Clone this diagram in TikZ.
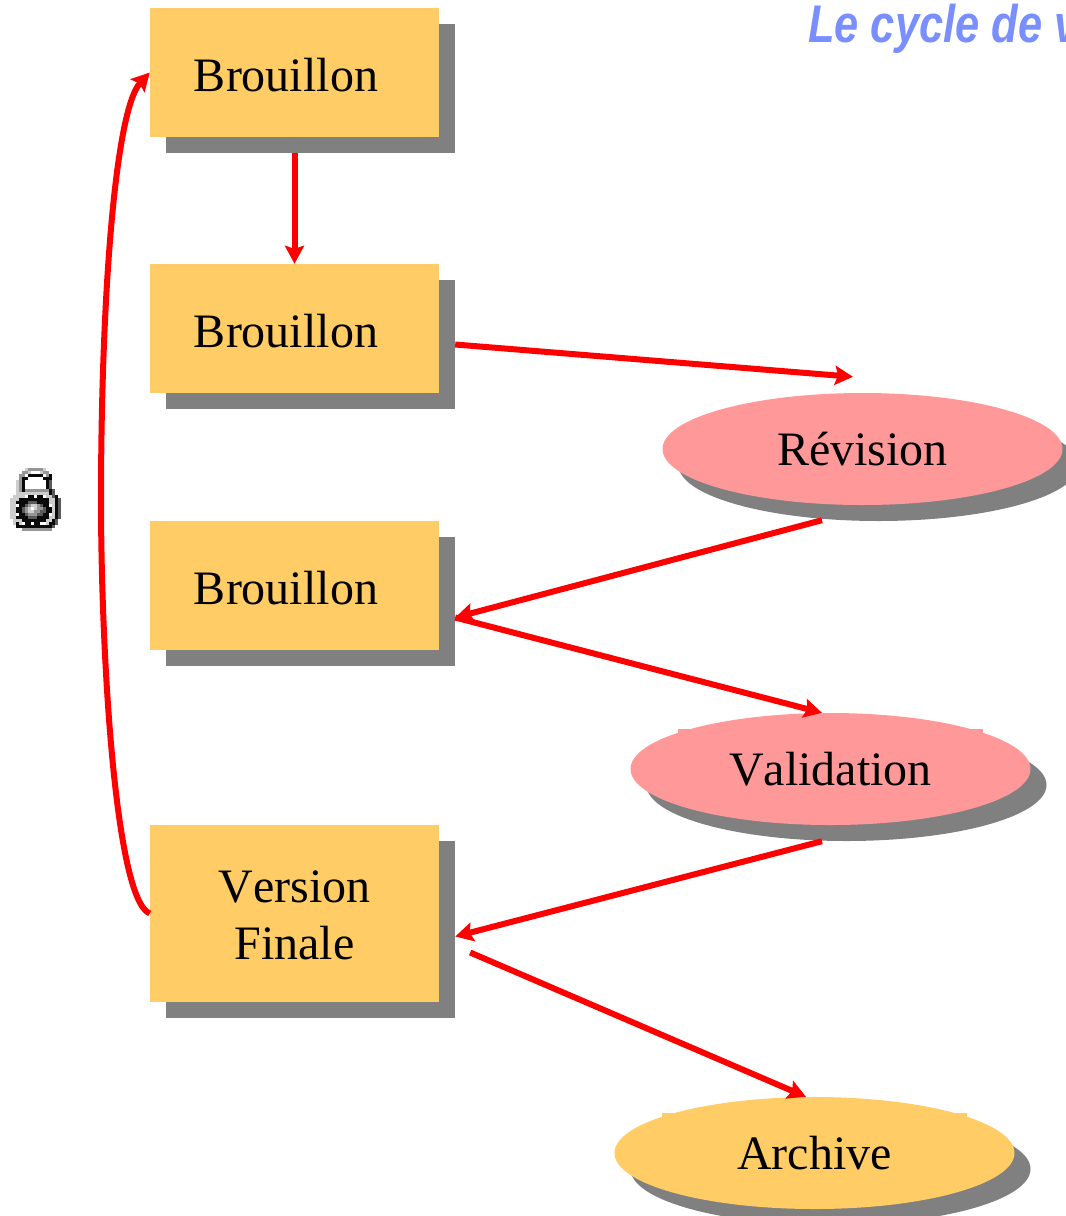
\documentclass[tikz,border=0pt]{standalone}
\usepackage{fontspec}
\setmainfont[Kerning=Off]{Liberation Serif}
\newfontfamily\titlefont{Liberation Sans}
\usetikzlibrary{arrows.meta,shapes.geometric,calc}
\definecolor{boxfill}{RGB}{255,204,102}
\definecolor{pinkfill}{RGB}{255,153,153}
\definecolor{shadowgray}{RGB}{128,128,128}
\definecolor{titleblue}{RGB}{122,143,255}
\definecolor{lockk}{RGB}{10,10,10}
\definecolor{lockd}{RGB}{90,90,90}
\definecolor{lockg}{RGB}{150,150,150}
\definecolor{lockl}{RGB}{205,205,205}
\newcount\lockx
\newcount\locky
\def\lockscan#1{\ifx#1\relax\else
  \ifx#1.\else\fill[lock#1] ({10+3*\the\lockx},{468+3*\the\locky}) rectangle +(3.1,3.1);\fi
  \advance\lockx by 1 \expandafter\lockscan\fi}
\def\lockline#1{\lockx=0 \lockscan#1\relax \advance\locky by 1 }
\tikzset{
  box/.style={rectangle,fill=boxfill,minimum width=289pt,inner sep=0pt,font=\fontsize{48}{57.5}\selectfont,align=center},
  boxshadow/.style={rectangle,fill=shadowgray,minimum width=289pt,inner sep=0pt},
  oval/.style={ellipse,minimum width=400pt,minimum height=112pt,inner sep=0pt,font=\fontsize{48}{58}\selectfont},
  ovalshadow/.style={ellipse,fill=shadowgray,minimum width=400pt,minimum height=112pt,inner sep=0pt},
  link/.style={draw=red,line width=6pt,-{Stealth[length=18pt,width=19pt,inset=3pt]}}
}
\begin{document}
\begin{tikzpicture}[x=1pt,y=-1pt]
\useasboundingbox (0,0) rectangle (1066,1216);
\clip (0,0) rectangle (1066,1216);
% title
\node[anchor=base west,inner sep=0pt,text=titleblue,xscale=0.82] (title) at (808,42) {\titlefont\fontsize{53}{60}\selectfont\bfseries\itshape Le cycle de v};
% shadows
\node[boxshadow,minimum height=129pt] (s1) at (310.5,88.5) {};
\node[boxshadow,minimum height=129pt] (s2) at (310.5,344.5) {};
\node[boxshadow,minimum height=129pt] (s3) at (310.5,601.5) {};
\node[boxshadow,minimum height=177pt] (s4) at (310.5,929.5) {};
\node[ovalshadow] (sr) at (878.5,465) {};
\node[ovalshadow] (sv) at (846.5,785) {};
\node[ovalshadow] (sa) at (830.5,1169) {};
% boxes
\node[box,minimum height=129pt,text height=39pt] (b1) at (294.5,72.5) {Brouillon\hspace{17pt}};
\node[box,minimum height=129pt,text height=39pt] (b2) at (294.5,328.5) {Brouillon\hspace{17pt}};
\node[box,minimum height=129pt,text height=38pt] (b3) at (294.5,585.5) {Brouillon\hspace{17pt}};
\node[box,minimum height=177pt] (b4) at (294.5,913.5) {\rule{0pt}{35pt}Version\\Finale};
% ovals
\fill[pinkfill] (678,729) rectangle (983,745);
\fill[boxfill] (662,1113) rectangle (967,1129);
\node[oval,fill=pinkfill] (rev) at (862.5,449) {Révision};
\node[oval,fill=pinkfill] (val) at (830.5,769) {Validation};
\node[oval,fill=boxfill] (arc) at (814.5,1153) {Archive};
% connectors
\draw[link] (s1.south -| b1.south) -- (b2.north);
\draw[link] (s2.east) -- ($(rev.north)+(-9.5,-16)$);
\draw[link] ($(rev.south)+(-40.5,15)$) -- ($(s3.east)+(0,16)$);
\draw[link] ($(s3.east)+(0,16)$) -- ($(val.north)+(-8.5,0)$);
\draw[link] ($(val.south)+(-8.5,16)$) -- ($(s4.east)+(0,7)$);
\draw[link] ($(s4.east)+(15,23)$) -- ($(arc.north)+(-8.5,0)$);
\draw[link] (b4.west) .. controls +(-35,-14) and (101,650) .. (101,500) .. controls (101,300) and (115,110) .. (b1.west);
% lock icon, drawn pixel by pixel
\lockline{.....lgggggl.....}
\lockline{....ggl...lgg....}
\lockline{...gg.kkkkk.gk...}
\lockline{...gkk.....kkk...}
\lockline{..lgk.......kd...}
\lockline{..lgk.......kd...}
\lockline{..lgk.......kd...}
\lockline{..lgkggggggggkd..}
\lockline{..lllllllllllkd..}
\lockline{.llll.kk.kk.lldk.}
\lockline{lllkkkkkkkkkkllkd}
\lockline{llkkkkdddkkkkllkd}
\lockline{ll.kkdgllgdkk.lkd}
\lockline{llkkdgl.lggdkklkd}
\lockline{llkkdgllggddkklkd}
\lockline{ll.kkdgggddkk.lkd}
\lockline{llkkkkdddkkkkllkd}
\lockline{.lllkkkkkkkkllkd.}
\lockline{.lkl.kk.kk..lkkd.}
\lockline{..kkkkkkkkkkkkd..}
\lockline{....gggggggggg...}
\end{tikzpicture}
\end{document}
